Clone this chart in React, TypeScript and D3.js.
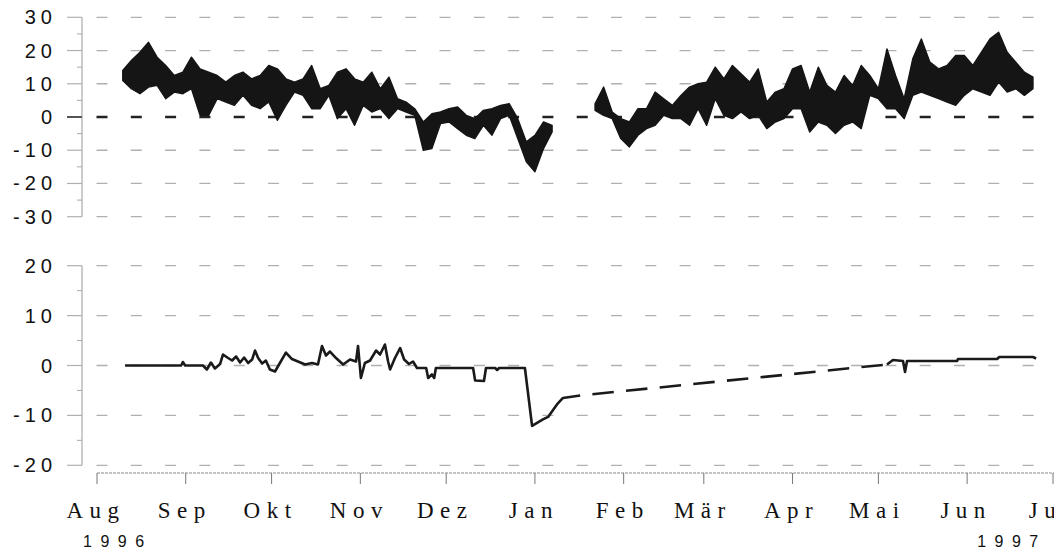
import React from "react";
import * as d3 from "d3";

// x values are days since 1 Aug 1996
const monthLabels = ["Aug", "Sep", "Okt", "Nov", "Dez", "Jan", "Feb", "Mär", "Apr", "Mai", "Jun", "Jul"];
const monthStarts = ["1996-08-01", "1996-09-01", "1996-10-01", "1996-11-01", "1996-12-01", "1997-01-01",
  "1997-02-01", "1997-03-01", "1997-04-01", "1997-05-01", "1997-06-01", "1997-07-01"];
const yearLabels = ["1996", "1997"];

const topTicks = [30, 20, 10, 0, -10, -20, -30];
const topMinor = [25, 15, 5, -5, -15, -25];
const bottomTicks = [20, 10, 0, -10, -20];
const bottomMinor = [15, 5, -5, -15];

// upper series: range of the readings, one sample every 3 days from day 9
const topFirstDay = 9;
const topStep = 3;
const topHigh = [14, 17, 19.5, 22.5, 18, 15.5, 12.5, 13.5, 18, 14.5,
  13.5, 12.5, 10.5, 12.5, 13.5, 11.5, 12.5, 15.5, 14.5, 11.5,
  10.5, 11.5, 15.5, 8.5, 9.5, 13.5, 14.5, 11.5, 10.5, 13.5,
  8.5, 12, 5.5, 4.5, 2.5, -1.5, 1, 1.5, 2.5, 3,
  0.5, -0.5, 2, 2.5, 3.5, 4, -0.5, -7.5, -5.5, -1.5,
  -2.5, null, null, null, null, 4, 9, 1.5, -0.5, -1.5,
  2.5, 2.5, 7.5, 5.5, 3.5, 6.5, 9, 10, 10.5, 15,
  11.5, 15.5, 13, 10.5, 14.5, 4.5, 7.5, 8.5, 14.5, 15.5,
  7.5, 15, 9.5, 7.5, 12.5, 9.5, 15.5, 12.5, 8.5, 20.5,
  12.5, 5.5, 17.5, 23.5, 16.5, 14.5, 15.5, 18.5, 18.5, 15.5,
  19.5, 23.5, 25.5, 19.5, 16.5, 13.5, 12];
const topLow = [11, 8.5, 7, 9, 9.5, 5.5, 7.5, 7, 8.5, 0.5,
  0.5, 5.5, 4.5, 3.5, 6.5, 3.5, 2.5, 4.5, -1, 3.5,
  7.5, 6.5, 2.5, 2.5, 6.5, -0.5, 2.5, -2.5, 3.5, 1.5,
  2.5, -0.5, 2.5, 1.5, 0.5, -10, -9.5, -2, -1.5, -3.5,
  -5.5, -6.5, -2.5, -5.5, -0.5, 0.5, -6.5, -13.5, -16.5, -9.5,
  -4.5, null, null, null, null, 2, 0.5, -0.5, -6.5, -9,
  -5.5, -3.5, -2.5, 0.5, -0.5, -0.5, -2.5, 2.5, -2.5, 5.5,
  0.5, -0.5, 1.5, -0.5, 0.5, -3.5, -1.5, -0.5, 2.5, 2.5,
  -4.5, -1.5, -2.5, -5, -2.5, -1.5, -3.5, 6.5, 5.5, 2.5,
  2.5, -0.5, 6.5, 7.5, 6.5, 5.5, 4.5, 3.5, 6.5, 8.5,
  7.5, 6.5, 10.5, 7.5, 8.5, 6.5, 8.5];

// lower series (null = missing, bridged by a dashed line)
const bottomDays = [9.8, 29.4, 30, 30.8, 37, 38.4, 39.8, 41.2, 43, 44, 45.8, 47.2, 48.6, 50, 51.4, 52.8,
  54.2, 55.2, 56.3, 57.7, 59, 60.4, 62.2, 63.9, 66, 68.1, 70.2, 72.7, 75.1, 77.2, 78.6, 80, 81.4, 83.5,
  86, 88.4, 90.5, 91.2, 92.2, 93.6, 95.4, 97.5, 98.9, 100.6, 101.7, 102.4, 104.1, 105.9, 107.3, 109,
  110.4, 111.8, 115, 115.7, 117, 117.8, 118.4, 131.4, 132.1, 135.2, 135.9, 139.1, 139.8, 140.5, 149.5,
  152, 155.8, 157.6, 160.7, 162.8, 168.8, 220, 276, 278.1, 281.6, 282.3, 283, 300.5, 300.8, 314.5,
  315.2, 327, 328.1];
const bottomVals = [0, 0, 0.7, 0, 0, -0.8, 0.6, -0.6, 0.3, 2.2, 1.5, 1.0, 1.8, 0.6, 1.6, 0.5,
  1.2, 3.0, 1.5, 0.4, 1.0, -0.8, -1.2, 0.5, 2.6, 1.3, 0.8, 0.2, 0.5, 0.2, 3.9, 2.0, 2.8, 1.5,
  0.2, 1.2, 0.8, 3.9, -2.5, 0.5, 1.0, 3.0, 2.2, 4.2, 0.8, -0.8, 1.5, 3.5, 1.2, 0.3,
  0.8, -0.5, -0.5, -2.5, -1.8, -2.5, -0.5, -0.5, -3.0, -3.1, -0.5, -0.5, -0.9, -0.5, -0.5,
  -12.1, -10.8, -10.3, -7.8, -6.5, -6.0, null, 0.2, 1.1, 0.9, -1.3, 0.9, 0.9, 1.3, 1.3,
  1.7, 1.7, 1.4];

const width = 1054;
const height = 551;
const t0 = new Date(1996, 7, 1);
const toDate = (d: number) => new Date(t0.getTime() + d * 864e5);

const sans = "'Liberation Sans', Arial, sans-serif";
const serif = "'Liberation Serif', 'Times New Roman', serif";

function Panel({ y, ticks, minor, zeroDark }: any) {
  const axisX = 82;
  return (
    <g>
      <line x1={axisX} x2={axisX} y1={y(ticks[0])} y2={y(ticks[ticks.length - 1])} stroke="#999" strokeWidth={1} />
      {minor.map((v: number) => (
        <line key={"m" + v} x1={axisX - 5} x2={axisX} y1={y(v)} y2={y(v)} stroke="#aaa" strokeWidth={1} />
      ))}
      {ticks.map((v: number) => {
        const dark = zeroDark && v === 0;
        return (
          <g key={v}>
            <line x1={67} x2={axisX} y1={y(v)} y2={y(v)} stroke={dark ? "#555" : "#b0b0b0"} strokeWidth={dark ? 2 : 1.2} />
            <line x1={96.5} x2={1034} y1={y(v)} y2={y(v)} stroke={dark ? "#222" : "#b0b0b0"}
              strokeWidth={dark ? 2.6 : 1.3} strokeDasharray="11 23.3" />
            <text x={57} y={y(v) + 7} textAnchor="end" fontFamily={sans} fontSize={20}
              letterSpacing={5} fill="#111">{String(v)}</text>
          </g>
        );
      })}
    </g>
  );
}

export default function App() {
  const x = d3.scaleTime().domain([toDate(0), new Date(1997, 6, 1)]).range([97, 1053]);
  const yTop = d3.scaleLinear().domain([-30, 30]).range([216.7, 17.3]);
  const yBot = d3.scaleLinear().domain([-20, 20]).range([465.3, 265.7]);

  const topData = topHigh.map((h, i) => ({ day: topFirstDay + topStep * i, hi: h, lo: topLow[i] }));
  const area = d3.area<any>()
    .defined((d) => d.hi != null && d.lo != null)
    .x((d) => x(toDate(d.day)))
    .y0((d) => yTop(d.lo))
    .y1((d) => yTop(d.hi));

  const botData = bottomDays.map((d, i) => ({ day: d, v: bottomVals[i] }));
  const line = d3.line<any>()
    .defined((d) => d.v != null)
    .x((d) => x(toDate(d.day)))
    .y((d) => yBot(d.v));
  const gapIdx = botData.findIndex((d) => d.v == null);
  const bridge = [botData[gapIdx - 1], botData[gapIdx + 1]];

  const axisY = 473;
  const months = monthStarts.map((s) => d3.timeParse("%Y-%m-%d")(s) as Date);

  return (
    <svg width={width} height={height} style={{ position: "absolute", left: 0, top: 0, background: "#fff" }}>
      <Panel y={yTop} ticks={topTicks} minor={topMinor} zeroDark={true} />
      <Panel y={yBot} ticks={bottomTicks} minor={bottomMinor} zeroDark={false} />

      <path d={area(topData) || ""} fill="#151515" stroke="#151515" strokeWidth={1.4} strokeLinejoin="round" />

      <path d={line(bridge) || ""} fill="none" stroke="#1a1a1a" strokeWidth={2.6}
        strokeDasharray="21.5 12.3" strokeDashoffset={21.5} />
      <path d={line(botData) || ""} fill="none" stroke="#1a1a1a" strokeWidth={2.6} strokeLinejoin="round" />

      <line x1={97} x2={width} y1={axisY} y2={axisY} stroke="#8a8a8a" strokeWidth={1.2} strokeDasharray="3 1" />
      {months.map((m, i) => (
        <g key={i}>
          <line x1={x(m)} x2={x(m)} y1={axisY} y2={axisY + 11} stroke="#777" strokeWidth={1} />
          <text x={x(m) - 1} y={518} textAnchor="middle" fontFamily={serif} fontSize={23}
            letterSpacing={6.5} fill="#111">{monthLabels[i]}</text>
        </g>
      ))}
      <text x={x(months[0]) - 14} y={547} fontFamily={sans} fontSize={16} letterSpacing={8.5} fill="#111">{yearLabels[0]}</text>
      <text x={x(months[10]) + 10} y={547} fontFamily={sans} fontSize={16} letterSpacing={8.5} fill="#111">{yearLabels[1]}</text>
    </svg>
  );
}
